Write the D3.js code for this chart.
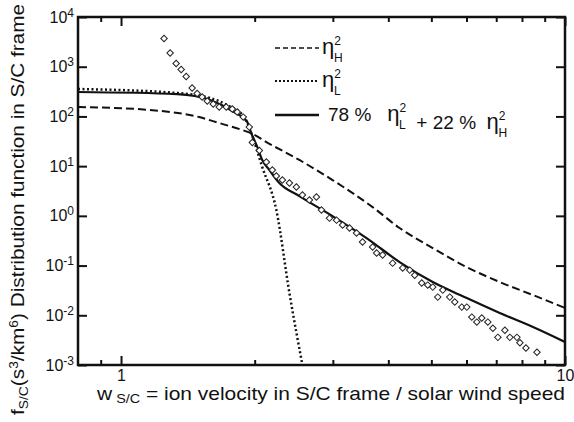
<!DOCTYPE html>
<html>
  <head>
    <title>Distribution function in S/C frame</title>
    <script src="https://d3js.org/d3.v7.min.js"></script>
    <style>
      body { margin: 0; background: #fff; }
      text { font-family: "Liberation Sans", Arial, sans-serif; fill: #111; white-space: pre; }
    </style>
  </head>
  <body>
    <script>
      var width = 574;
      var height = 422;
      var margin = {top: 17, left: 78, right: 9, bottom: 57};

      // curves: velocity (w / Vsw) and f (s^3/km^6)
      var etaH_x = [0.8, 1.157, 1.50, 1.664, 1.876, 1.965, 2.125, 2.522, 2.995, 3.687, 4.241, 5.036, 6.009, 7.13, 8.47, 10];
      var etaH_y = [155, 135, 97, 73.6, 53.2, 46, 30.5, 13.3, 5.25, 1.50, 0.569, 0.225, 0.093, 0.0466, 0.0255, 0.014];

      var etaL_x = [0.8, 1.338, 1.588, 1.735, 1.896, 1.965, 2.08, 2.238, 2.395, 2.562];
      var etaL_y = [356, 296, 234, 169, 97, 46, 9.6, 1.31, 0.028, 0.001];

      var mix_x = [0.8, 1.338, 1.588, 1.781, 1.925, 1.965, 2.028, 2.08, 2.159, 2.273, 2.522, 2.995, 3.573, 4.241, 5.036, 6.009, 7.13, 8.47, 10];
      var mix_y = [310, 282, 214, 128, 77, 46, 24.2, 13.3, 8.35, 4.57, 2.50, 0.99, 0.357, 0.1175, 0.0466, 0.0222, 0.0111, 0.0058, 0.0029];

      // measured points (diamonds)
      var obs_x = [1.250, 1.290, 1.331, 1.366, 1.402, 1.446, 1.484, 1.523, 1.564, 1.613, 1.664, 1.726, 1.781, 1.827, 1.885, 1.945,
        1.976, 2.049, 2.125, 2.192, 2.238, 2.309, 2.395, 2.483, 2.562, 2.657, 2.755, 2.828, 2.948, 3.058, 3.155, 3.271, 3.392,
        3.499, 3.687, 3.764, 3.883, 4.090, 4.309, 4.469, 4.586, 4.756, 4.907, 5.036, 5.169, 5.305, 5.501, 5.646, 5.855, 6.009,
        6.167, 6.329, 6.495, 6.702, 6.879, 7.060, 7.321, 7.513, 7.792, 7.915, 8.166, 8.647];
      var obs_y = [3690, 1890, 1160, 880, 635, 373, 289, 246, 204, 178, 155, 155, 141, 123, 97, 61,
        29.8, 20.6, 12.1, 8.35, 6.32, 5.25, 4.57, 3.80, 2.62, 2.08, 2.39, 1.31, 0.90, 0.82, 0.653, 0.569, 0.451,
        0.297, 0.236, 0.179, 0.163, 0.112, 0.089, 0.081, 0.064, 0.0445, 0.0405, 0.0369, 0.0232, 0.0321, 0.0232, 0.0185, 0.0146, 0.0146,
        0.0092, 0.0073, 0.0088, 0.0073, 0.0055, 0.0036, 0.0050, 0.0036, 0.0036, 0.0028, 0.0022, 0.0018];

      var yTicks = [1e-3, 1e-2, 1e-1, 1, 10, 100, 1000, 10000];
      var yExps = ["-3", "-2", "-1", "0", "1", "2", "3", "4"];
      var xMajor = [1, 10];
      var xMinor = [0.9, 2, 3, 4, 5, 6, 7, 8, 9];

      var svg = d3.select("body")
        .append("svg")
        .attr("width", width)
        .attr("height", height);

      var xScale = d3.scaleLog()
        .domain([0.8, 10])
        .range([margin.left, width - margin.right]);

      var yScale = d3.scaleLog()
        .domain([1e-3, 1e4])
        .range([height - margin.bottom, margin.top]);

      var x0 = margin.left, x1 = width - margin.right;
      var y0 = height - margin.bottom, y1 = margin.top;

      svg.append("defs").append("clipPath").attr("id", "plot")
        .append("rect")
        .attr("x", x0).attr("y", y1)
        .attr("width", x1 - x0).attr("height", y0 - y1);

      // axes, ticks pointing inward
      function styleAxis(g) {
        g.select(".domain").remove();
        g.selectAll(".tick line").attr("stroke", "#111").attr("stroke-width", 2);
      }

      svg.append("g")
        .attr("transform", `translate(0,${y0})`)
        .call(d3.axisBottom(xScale).tickValues(xMajor).tickSize(-9).tickPadding(4).tickFormat(d3.format("d")))
        .call(styleAxis)
        .selectAll("text").style("font-size", "16px").attr("dy", "0.72em");

      svg.append("g")
        .attr("transform", `translate(0,${y0})`)
        .call(d3.axisBottom(xScale).tickValues(xMinor).tickSize(-5).tickFormat(""))
        .call(styleAxis);

      svg.append("g")
        .attr("transform", `translate(0,${y1})`)
        .call(d3.axisTop(xScale).tickValues(xMajor).tickSize(-9).tickFormat(""))
        .call(styleAxis);

      svg.append("g")
        .attr("transform", `translate(0,${y1})`)
        .call(d3.axisTop(xScale).tickValues(xMinor).tickSize(-5).tickFormat(""))
        .call(styleAxis);

      var yAxis = svg.append("g")
        .attr("transform", `translate(${x0},0)`)
        .call(d3.axisLeft(yScale).tickValues(yTicks).tickSize(-9).tickPadding(4).tickFormat(""))
        .call(styleAxis);

      yAxis.selectAll(".tick text")
        .style("font-size", "16px")
        .each(function(d, i) {
          var t = d3.select(this);
          t.append("tspan").text("10");
          t.append("tspan").attr("dy", "-0.5em").style("font-size", "12px").text(yExps[i]);
        });

      svg.append("g")
        .attr("transform", `translate(${x1},0)`)
        .call(d3.axisRight(yScale).tickValues(yTicks).tickSize(-9).tickFormat(""))
        .call(styleAxis);

      // frame
      svg.append("rect")
        .attr("x", x0).attr("y", y1)
        .attr("width", x1 - x0).attr("height", y0 - y1)
        .attr("fill", "none")
        .attr("stroke", "#111")
        .attr("stroke-width", 2.5);

      var line = d3.line()
        .x(function(d) { return xScale(d[0]); })
        .y(function(d) { return yScale(d[1]); })
        .curve(d3.curveMonotoneX);

      var plot = svg.append("g").attr("clip-path", "url(#plot)");

      plot.append("path")
        .datum(d3.zip(etaH_x, etaH_y))
        .attr("d", line)
        .attr("fill", "none")
        .attr("stroke", "#111")
        .attr("stroke-width", 2)
        .attr("stroke-dasharray", "8,4");

      plot.append("path")
        .datum(d3.zip(etaL_x, etaL_y))
        .attr("d", line)
        .attr("fill", "none")
        .attr("stroke", "#111")
        .attr("stroke-width", 2.5)
        .attr("stroke-dasharray", "2,2.5");

      plot.append("path")
        .datum(d3.zip(mix_x, mix_y))
        .attr("d", line)
        .attr("fill", "none")
        .attr("stroke", "#111")
        .attr("stroke-width", 2.2);

      var diamond = d3.symbol().type(d3.symbolSquare).size(21);
      plot.selectAll(".obs")
        .data(d3.zip(obs_x, obs_y))
        .enter()
        .append("path")
          .attr("class", "obs")
          .attr("d", diamond)
          .attr("transform", function(d) { return `translate(${xScale(d[0])},${yScale(d[1])}) rotate(45)`; })
          .attr("fill", "#fff")
          .attr("stroke", "#222")
          .attr("stroke-width", 1);

      // legend
      var legend = svg.append("g");
      var rows = [
        {y: 48, dash: "5,3", w: 1.6},
        {y: 81, dash: "2,2", w: 1.8},
        {y: 115, dash: null, w: 2.4}
      ];
      rows.forEach(function(r) {
        legend.append("line")
          .attr("x1", 275).attr("x2", 319)
          .attr("y1", r.y).attr("y2", r.y)
          .attr("stroke", "#111")
          .attr("stroke-width", r.w)
          .attr("stroke-dasharray", r.dash);
      });

      // eta with superscript 2 and a subscript, appended to a text element
      function eta(t, sub, lead) {
        if (lead) t.append("tspan").style("font-size", "19px").text(lead);
        t.append("tspan").style("font-size", "22px").text("η");
        t.append("tspan").attr("dy", -9).style("font-size", "12px").text("2");
        t.append("tspan").attr("dx", -7).attr("dy", 17).style("font-size", "12px").text(sub);
        t.append("tspan").attr("dy", -8).text("");
      }
      eta(legend.append("text").attr("x", 322).attr("y", 54), "H");
      eta(legend.append("text").attr("x", 322).attr("y", 87), "L");

      var mixText = legend.append("text").attr("x", 328).attr("y", 121);
      eta(mixText, "L", "78 %   ");
      mixText.append("tspan").style("font-size", "19px").text("  + 22 %  ");
      mixText.append("tspan").style("font-size", "22px").text("η");
      mixText.append("tspan").attr("dy", -9).style("font-size", "12px").text("2");
      mixText.append("tspan").attr("dx", -7).attr("dy", 17).style("font-size", "12px").text("H");

      // axis titles
      var xt = svg.append("text")
        .attr("x", 97)
        .attr("y", 400)
        .attr("textLength", 468)
        .attr("lengthAdjust", "spacingAndGlyphs")
        .style("font-size", "19px");
      xt.append("tspan").text("w");
      xt.append("tspan").attr("dy", 3).style("font-size", "13px").text(" S/C");
      xt.append("tspan").attr("dy", -3).text(" = ion velocity in S/C frame / solar wind speed");

      var yt = svg.append("text")
        .attr("transform", "translate(24,415) rotate(-90)")
        .attr("textLength", 411)
        .attr("lengthAdjust", "spacingAndGlyphs")
        .style("font-size", "18px");
      yt.append("tspan").text("f");
      yt.append("tspan").attr("dy", 4).style("font-size", "12px").text("S/C");
      yt.append("tspan").attr("dy", -4).text("(s");
      yt.append("tspan").attr("dy", -6).style("font-size", "12px").text("3");
      yt.append("tspan").attr("dy", 6).text("/km");
      yt.append("tspan").attr("dy", -6).style("font-size", "12px").text("6");
      yt.append("tspan").attr("dy", 6).text(") Distribution function in S/C frame");
    </script>
  </body>
</html>
